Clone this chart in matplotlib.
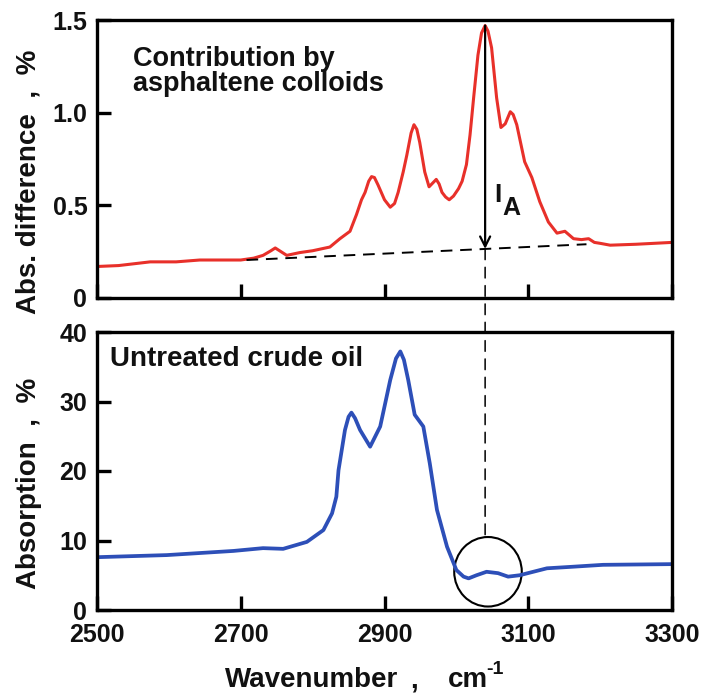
import matplotlib
matplotlib.use("Agg")
import matplotlib.pyplot as plt
from matplotlib.patches import Ellipse, ConnectionPatch

plt.rcParams['font.family'] = ['Liberation Sans', 'DejaVu Sans']
plt.rcParams['font.weight'] = 'bold'

# ---- data ----
red_wn = [2500, 2530, 2574, 2610, 2643, 2700, 2718, 2731, 2742, 2748, 2756, 2764, 2782,
          2800, 2824, 2838, 2852, 2861, 2868, 2873, 2878, 2882, 2886, 2891, 2900, 2908,
          2914, 2919, 2926, 2931, 2937, 2941, 2945, 2949, 2956, 2962, 2967, 2972, 2976,
          2980, 2985, 2990, 2996, 3003, 3008, 3014, 3019, 3024, 3030, 3035, 3040, 3044,
          3049, 3056, 3062, 3068, 3075, 3079, 3084, 3095, 3105, 3116, 3128, 3140, 3151,
          3163, 3174, 3184, 3192, 3200, 3214, 3250, 3300]
red_val = [0.17, 0.175, 0.195, 0.195, 0.205, 0.205, 0.215, 0.23, 0.255, 0.27, 0.25, 0.23, 0.245,
           0.255, 0.275, 0.32, 0.36, 0.45, 0.53, 0.57, 0.63, 0.655, 0.65, 0.61, 0.53, 0.49,
           0.51, 0.57, 0.68, 0.77, 0.89, 0.935, 0.91, 0.84, 0.68, 0.60, 0.62, 0.64, 0.615,
           0.57, 0.545, 0.53, 0.55, 0.59, 0.63, 0.72, 0.88, 1.08, 1.31, 1.43, 1.47, 1.44,
           1.35, 1.08, 0.92, 0.94, 1.005, 0.99, 0.935, 0.735, 0.65, 0.52, 0.41, 0.35, 0.36,
           0.32, 0.315, 0.32, 0.30, 0.295, 0.285, 0.29, 0.30]

blue_wn = [2500, 2597, 2690, 2731, 2759, 2792, 2815, 2827, 2833, 2836, 2845, 2850, 2854,
           2859, 2866, 2880, 2894, 2908, 2916, 2922, 2927, 2933, 2942, 2954, 2963, 2973,
           2987, 3000, 3010, 3017, 3028, 3042, 3058, 3072, 3088, 3126, 3158, 3204, 3300]
blue_val = [7.6, 7.9, 8.5, 8.9, 8.8, 9.8, 11.5, 13.9, 16.3, 20.1, 25.9, 27.8, 28.4,
            27.6, 25.9, 23.5, 26.4, 33.1, 36.2, 37.2, 36.0, 33.1, 28.1, 26.4, 21.1, 14.4,
            9.1, 5.75, 4.8, 4.55, 5.0, 5.5, 5.3, 4.8, 5.0, 6.0, 6.2, 6.5, 6.6]

baseline_wn = [2708, 3181]
baseline_val = [0.205, 0.29]
peak_wn = 3040
peak_val = 1.47
circle_center = (3044, 5.5)

x_ticks = [2500, 2700, 2900, 3100, 3300]
top_yticks = [0, 0.5, 1.0, 1.5]
top_yticklabels = ['0', '0.5', '1.0', '1.5']
bot_yticks = [0, 10, 20, 30, 40]

TXT = '#111111'
W, H = 701, 693
fig = plt.figure(figsize=(W / 100, H / 100), dpi=100)

def px_axes(l, t, r, b):
    return fig.add_axes([l / W, 1 - b / H, (r - l) / W, (b - t) / H])

ax1 = px_axes(97, 20, 672, 298)
ax2 = px_axes(97, 332, 672, 610)

for ax in (ax1, ax2):
    for s in ax.spines.values():
        s.set_linewidth(2.4)
        s.set_color('black')
    ax.set_xlim(2500, 3300)
    ax.set_xticks(x_ticks)
    ax.tick_params(direction='in', length=10, width=2.4, labelsize=18,
                   colors='black', labelcolor=TXT, pad=7)

ax1.tick_params(axis='x', labelbottom=False)
ax1.set_ylim(0, 1.5)
ax1.set_yticks(top_yticks)
ax1.set_yticklabels(top_yticklabels, fontweight='bold')
ax2.set_ylim(0, 40)
ax2.set_yticks(bot_yticks)
ax2.set_yticklabels([str(v) for v in bot_yticks], fontweight='bold')
ax2.set_xticklabels([str(v) for v in x_ticks], fontweight='bold')
ax2.tick_params(axis='x', pad=9)

# curves
ax1.plot(red_wn, red_val, color='#e8302a', lw=2.2, solid_joinstyle='round')
ax2.plot(blue_wn, blue_val, color='#2d4fb8', lw=2.7, solid_joinstyle='round')

# baseline + arrow
ax1.plot(baseline_wn, baseline_val, color='black', lw=1.4, dashes=(6, 4))
base_at_peak = baseline_val[0] + (peak_wn - baseline_wn[0]) / (baseline_wn[1] - baseline_wn[0]) * (baseline_val[1] - baseline_val[0])
ax1.annotate('', xy=(peak_wn, base_at_peak), xytext=(peak_wn, peak_val),
             arrowprops=dict(arrowstyle='->', lw=1.6, color='black',
                             mutation_scale=18, shrinkA=0, shrinkB=0))
ax1.text(3052, 0.518, 'I', fontsize=19, fontweight='bold', color=TXT, va='baseline', ha='left')
ax1.text(3064, 0.448, 'A', fontsize=18, fontweight='bold', color=TXT, va='baseline', ha='left')

# circle
ax2.add_patch(Ellipse(circle_center, width=94, height=10.0, fill=False,
                      lw=1.5, edgecolor='black'))
con = ConnectionPatch(xyA=(peak_wn, base_at_peak), coordsA=ax1.transData,
                      xyB=(peak_wn, circle_center[1] + 5.0), coordsB=ax2.transData,
                      color='black', lw=1.1, linestyle=(0, (7, 5)))
fig.add_artist(con)

# panel texts
fig.text(133 / W, 1 - 66 / H, 'Contribution by', fontsize=19.5, fontweight='bold',
         color=TXT, va='baseline', ha='left')
fig.text(133 / W, 1 - 91 / H, 'asphaltene colloids', fontsize=19.5, fontweight='bold',
         color=TXT, va='baseline', ha='left')
fig.text(110 / W, 1 - 366 / H, 'Untreated crude oil', fontsize=20, fontweight='bold',
         color=TXT, va='baseline', ha='left')

# axis labels
fig.text(29 / W, 1 - 182 / H, 'Abs. difference  ,  %', fontsize=20, fontweight='bold',
         color=TXT, rotation=90, va='center', ha='center')
fig.text(29 / W, 1 - 483 / H, 'Absorption  ,  %', fontsize=20, fontweight='bold',
         color=TXT, rotation=90, va='center', ha='center')
fig.text(225 / W, 1 - 687 / H, 'Wavenumber', fontsize=20, fontweight='bold',
         color=TXT, va='baseline', ha='left')
fig.text(410 / W, 1 - 687 / H, ',', fontsize=20, fontweight='bold',
         color=TXT, va='baseline', ha='left')
fig.text(448 / W, 1 - 687 / H, 'cm', fontsize=20, fontweight='bold',
         color=TXT, va='baseline', ha='left')
fig.text(486 / W, 1 - 674 / H, '-1', fontsize=14, fontweight='bold',
         color=TXT, va='baseline', ha='left')

fig.savefig('out.png', dpi=100)
